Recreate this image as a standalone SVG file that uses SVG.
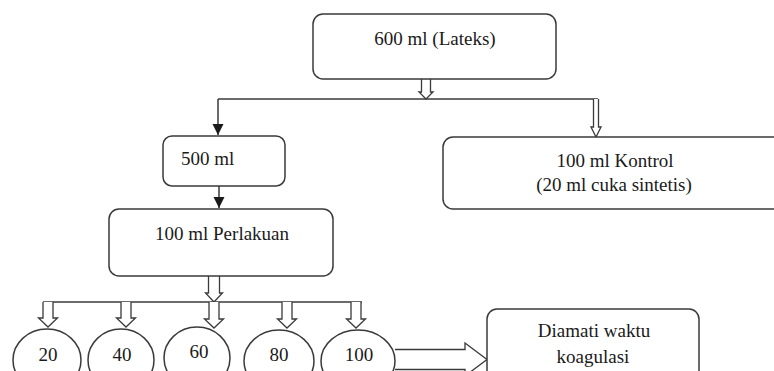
<svg xmlns="http://www.w3.org/2000/svg" width="774" height="371" viewBox="0 0 774 371">
<style>
.box{fill:#fff;stroke:#3a3a3a;stroke-width:1.5}
.ln{fill:none;stroke:#3a3a3a;stroke-width:1.5}
.ha{fill:#fff;stroke:#3a3a3a;stroke-width:1.3;stroke-linejoin:miter}
.t{font-family:"Liberation Serif","Times New Roman",serif;font-size:19px;fill:#1a1a1a}
.c{text-anchor:middle}
</style>
<defs>
<marker id="fa" viewBox="0 0 10 10" refX="10" refY="5" markerWidth="11" markerHeight="12" markerUnits="userSpaceOnUse" orient="auto">
<path d="M0,0 L10,5 L0,10 Z" fill="#1a1a1a"/>
</marker>
</defs>
<rect width="774" height="371" fill="#fff"/>
<g id="connectors">
<line class="ln" x1="218" y1="99" x2="598" y2="99"/>
<line class="ln" x1="218" y1="99" x2="218" y2="135" marker-end="url(#fa)"/>
<line class="ln" x1="219" y1="186" x2="219" y2="208" marker-end="url(#fa)"/>
<path class="ha" d="M421.5,79 V92 H419 L426,99 L433,92 H430.5 V79"/>
<path class="ha" d="M593.5,99 V127 H591 L596,137 L601,127 H598.5 V99"/>
<path class="ha" d="M208.5,276 V293 H205.5 L214,302 L222.5,293 H219.5 V276"/>
<line class="ln" x1="43" y1="302" x2="362" y2="302"/>
<path class="ha" d="M43,302 V318 H38.5 L48,327 L57.5,318 H53 V302"/>
<path class="ha" d="M121,302 V318 H116.5 L126,327 L135.5,318 H131 V302"/>
<path class="ha" d="M209,302 V319 H204.5 L214,328 L223.5,319 H219 V302"/>
<path class="ha" d="M282,302 V319 H277.5 L287,328 L296.5,319 H292 V302"/>
<path class="ha" d="M351,302 V319 H346.5 L356,328 L365.5,319 H361 V302"/>
<path class="ha" d="M395,349.5 H465 V343 L487,359.5 L465,376 V369.5 H395"/>
</g>
<g id="n-lateks">
<rect class="box" x="313" y="14" width="243" height="65" rx="10"/>
<text class="t c" x="435" y="45">600 ml (Lateks)</text>
</g>
<g id="n-500">
<rect class="box" x="163" y="136" width="122" height="50" rx="9"/>
<text class="t" x="181" y="165">500 ml</text>
</g>
<g id="n-kontrol">
<rect class="box" x="443" y="137" width="360" height="72" rx="10"/>
<text class="t c" x="615" y="167">100 ml Kontrol</text>
<text class="t c" x="614" y="191">(20 ml cuka sintetis)</text>
</g>
<g id="n-perlakuan">
<rect class="box" x="109" y="209" width="224" height="67" rx="10"/>
<text class="t" x="155" y="240">100 ml Perlakuan</text>
</g>
<g id="n-20">
<ellipse class="box" cx="47" cy="360" rx="34" ry="31"/>
<text class="t c" x="48" y="361">20</text>
</g>
<g id="n-40">
<ellipse class="box" cx="121" cy="360" rx="33" ry="31"/>
<text class="t c" x="122" y="361">40</text>
</g>
<g id="n-60">
<ellipse class="box" cx="197" cy="358" rx="33" ry="31"/>
<text class="t c" x="199" y="358">60</text>
</g>
<g id="n-80">
<ellipse class="box" cx="279" cy="361" rx="35" ry="31"/>
<text class="t c" x="279" y="361">80</text>
</g>
<g id="n-100">
<ellipse class="box" cx="358" cy="361" rx="37" ry="31"/>
<text class="t c" x="359" y="361">100</text>
</g>
<g id="n-diamati">
<rect class="box" x="487" y="309" width="212" height="90" rx="10"/>
<text class="t c" x="594" y="337">Diamati waktu</text>
<text class="t c" x="593" y="363">koagulasi</text>
</g>
</svg>
